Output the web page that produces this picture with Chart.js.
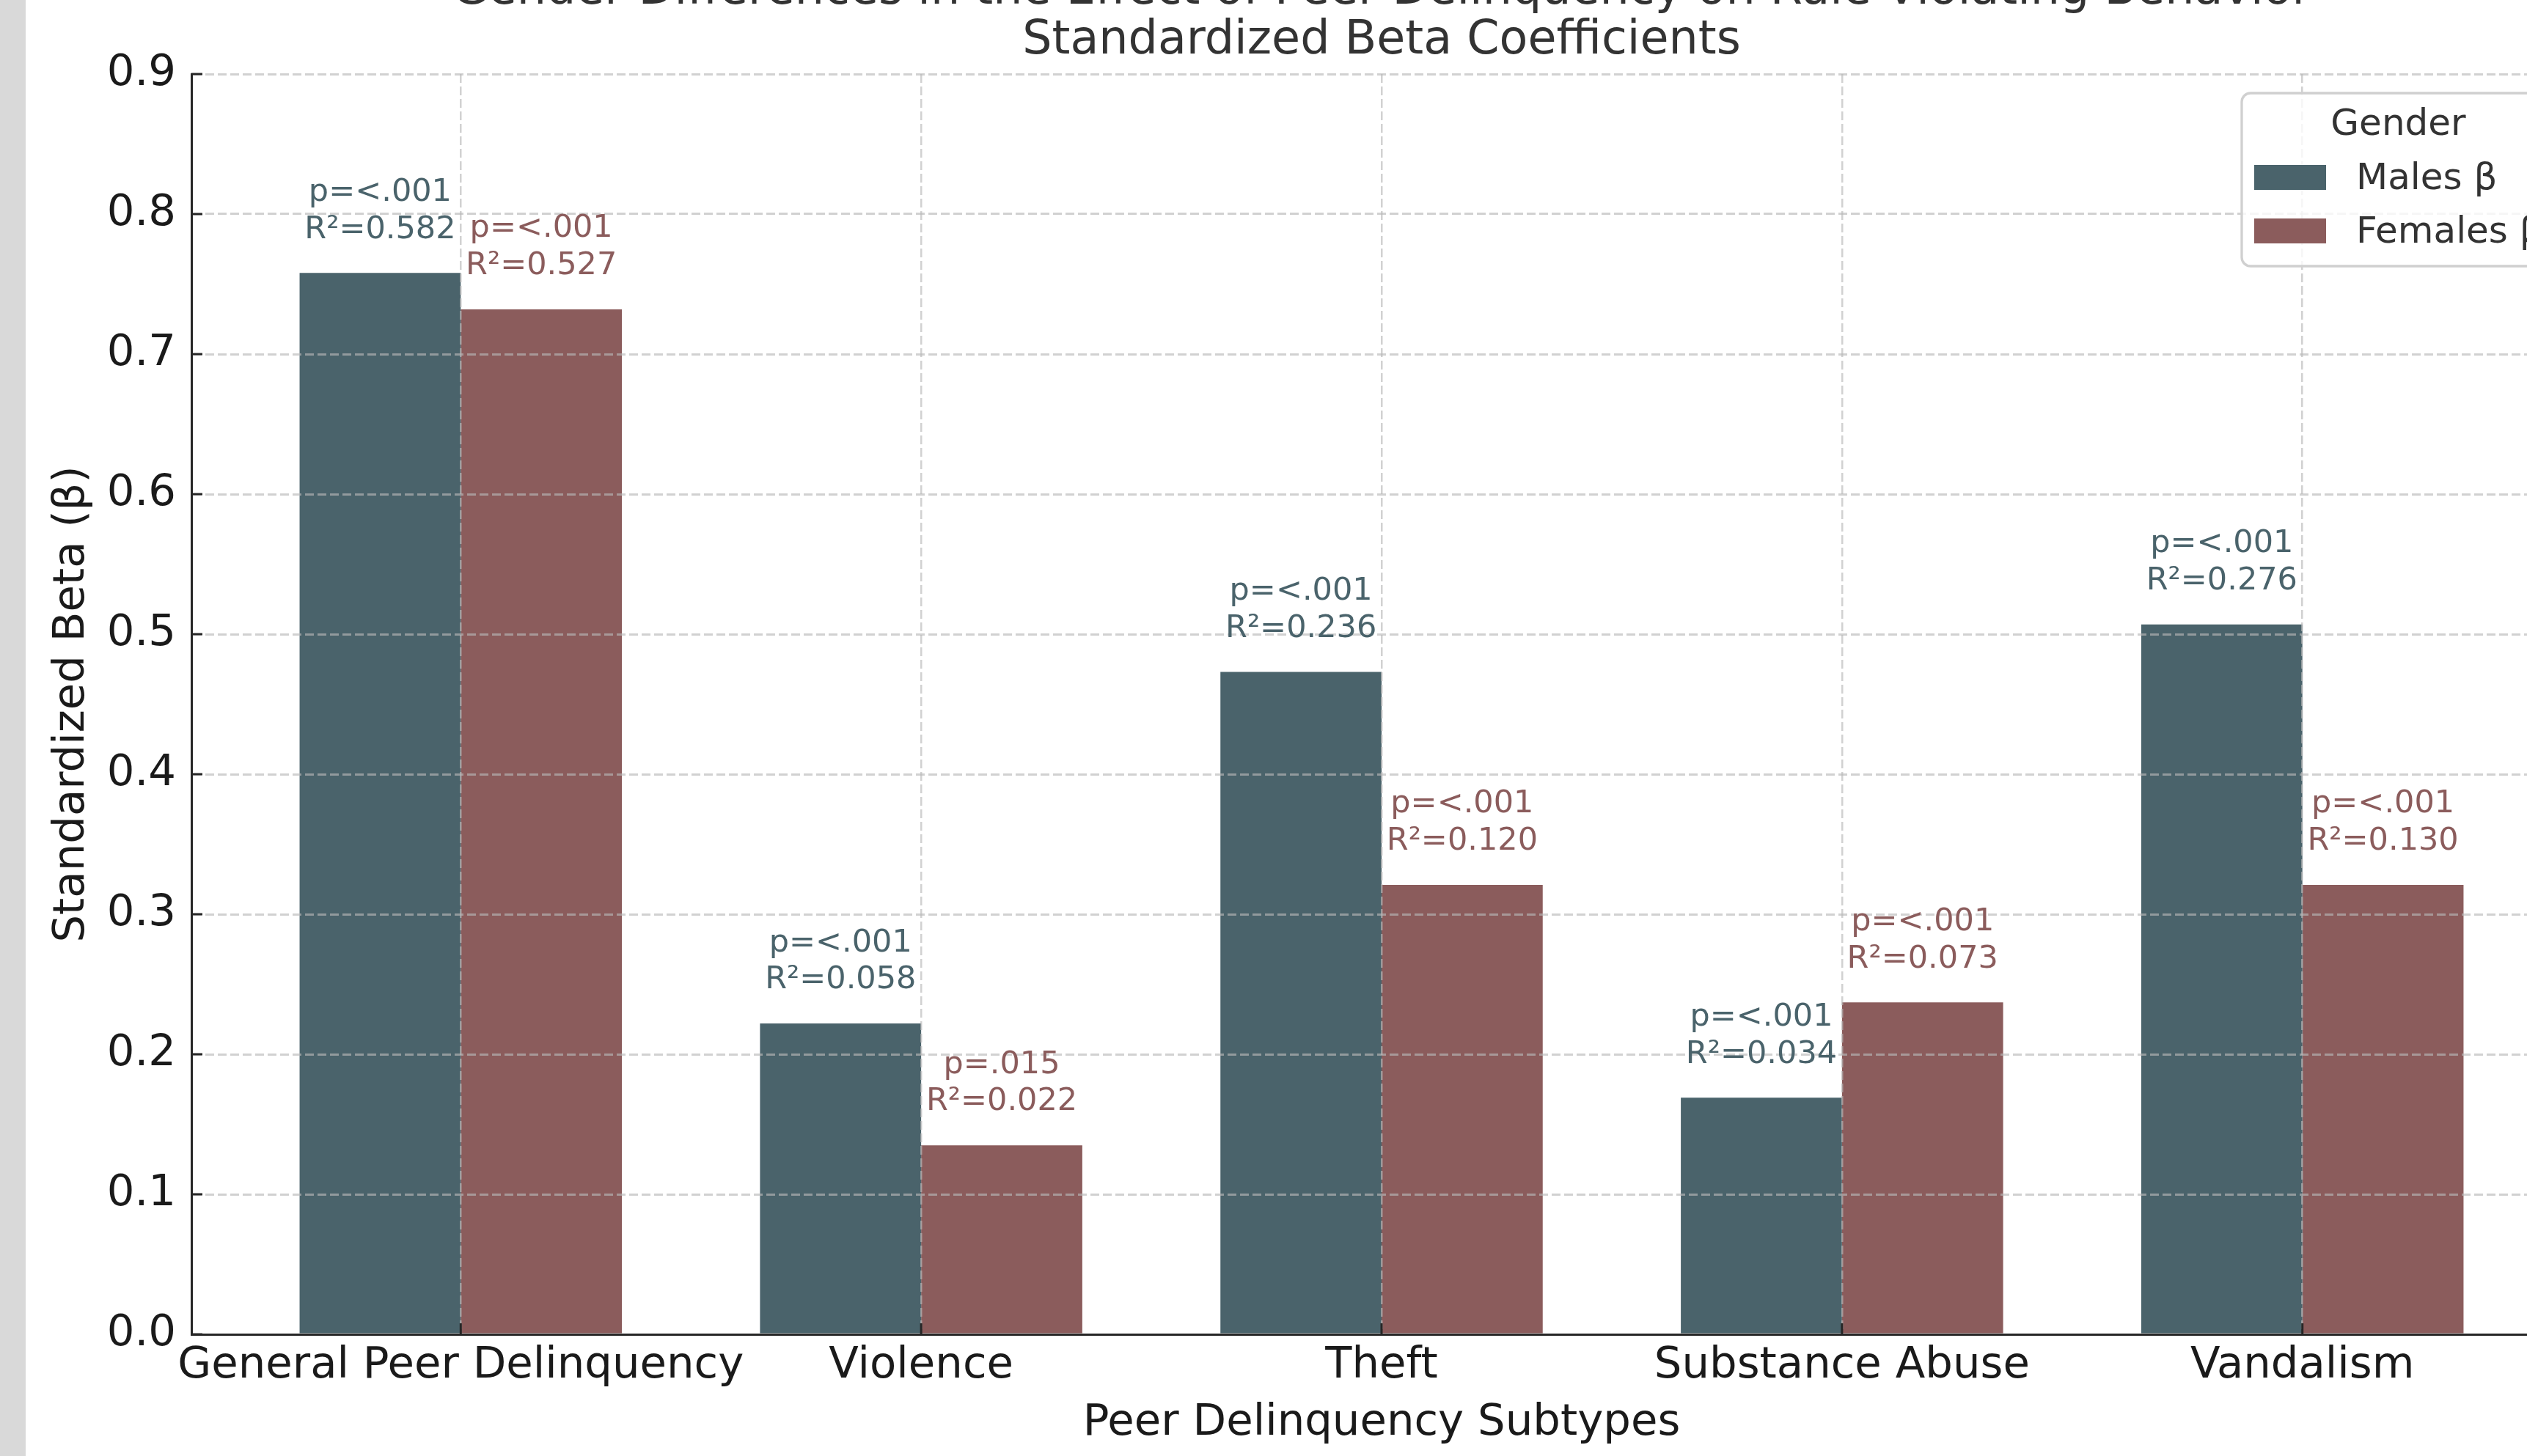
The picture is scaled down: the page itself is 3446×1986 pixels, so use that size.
<!DOCTYPE html>
<html lang="en">
<head>
  <meta charset="UTF-8">
  <title>Peer Delinquency Betas</title>
  <style>
    html, body { margin: 0; padding: 0; width: 3446px; height: 1986px; overflow: hidden; background: #fff; }
    #strip { position: absolute; left: 0; top: 0; width: 35px; height: 1986px; background: #d9d9d9; }
    #wrap { position: absolute; left: 35px; top: -100px; width: 3600px; height: 2086px; }
  </style>
</head>
<body>
<div id="strip"></div>
<div id="wrap"><canvas id="myChart" width="3600" height="2086"></canvas></div>

<script src="https://cdn.jsdelivr.net/npm/chart.js"></script>

<script>
  // values
  const categories = ['General Peer Delinquency', 'Violence', 'Theft', 'Substance Abuse', 'Vandalism'];
  const malesBeta = [0.758, 0.222, 0.473, 0.169, 0.507];
  const femalesBeta = [0.732, 0.135, 0.321, 0.237, 0.321];
  const malesP = ['<.001', '<.001', '<.001', '<.001', '<.001'];
  const femalesP = ['<.001', '.015', '<.001', '<.001', '<.001'];
  const malesR2 = ['0.582', '0.058', '0.236', '0.034', '0.276'];
  const femalesR2 = ['0.527', '0.022', '0.120', '0.073', '0.130'];
  const yTicks = [0, 0.1, 0.2, 0.3, 0.4, 0.5, 0.6, 0.7, 0.8, 0.9];
  const titleLines = ['Gender Differences in the Effect of Peer Delinquency on Rule-Violating Behavior',
                      'Standardized Beta Coefficients'];

  const maleColor = '#4a636b';
  const femaleColor = '#8b5c5c';
  const FONT = '"DejaVu Sans", sans-serif';
  const gridColor = 'rgba(185,185,185,0.65)';

  // title, inward ticks, bar labels and legend
  const extras = {
    id: 'extras',
    afterDraw(chart) {
      const ctx = chart.ctx;
      const a = chart.chartArea;
      const xs = chart.scales.x, ys = chart.scales.y;
      ctx.save();

      // title
      ctx.fillStyle = '#333333';
      ctx.font = '63.5px ' + FONT;
      ctx.textAlign = 'center';
      ctx.textBaseline = 'alphabetic';
      const cx = (a.left + a.right) / 2;
      ctx.fillText(titleLines[0], cx, a.top - 96);
      ctx.fillText(titleLines[1], cx, a.top - 28);

      // inward tick marks
      ctx.strokeStyle = '#262626';
      ctx.lineWidth = 3;
      ctx.beginPath();
      yTicks.forEach(v => {
        const y = ys.getPixelForValue(v);
        ctx.moveTo(a.left, y);
        ctx.lineTo(a.left + 15, y);
      });
      categories.forEach((c, i) => {
        const x = xs.getPixelForValue(i);
        ctx.moveTo(x, a.bottom);
        ctx.lineTo(x, a.bottom - 15);
      });
      ctx.stroke();

      // p / R² labels above bars
      ctx.font = '43px ' + FONT;
      ctx.textAlign = 'center';
      const groups = [[malesBeta, malesP, malesR2, maleColor], [femalesBeta, femalesP, femalesR2, femaleColor]];
      groups.forEach((g, di) => {
        const meta = chart.getDatasetMeta(di);
        ctx.fillStyle = g[3];
        meta.data.forEach((bar, i) => {
          const base = ys.getPixelForValue(g[0][i] + 0.02) - 9.5;
          ctx.fillText('R\u00b2=' + g[2][i], bar.x, base);
          ctx.fillText('p=' + g[1][i], bar.x, base - 50.7);
        });
      });

      // legend
      const lx = a.right - 450, ly = a.top + 26, lw = 427, lh = 236;
      ctx.beginPath();
      ctx.roundRect(lx, ly, lw, lh, 12);
      ctx.fillStyle = 'rgba(255,255,255,0.8)';
      ctx.fill();
      ctx.strokeStyle = '#d0d0d0';
      ctx.lineWidth = 3.3;
      ctx.stroke();
      ctx.font = '50px ' + FONT;
      ctx.fillStyle = '#333333';
      ctx.textAlign = 'center';
      ctx.fillText('Gender', lx + lw / 2, ly + 57);
      ctx.textAlign = 'left';
      const items = [['Males \u03b2', maleColor], ['Females \u03b2', femaleColor]];
      items.forEach((it, k) => {
        const top = ly + 98 + k * 73;
        ctx.fillStyle = it[1];
        ctx.fillRect(lx + 17, top, 98, 34);
        ctx.fillStyle = '#333333';
        ctx.fillText(it[0], lx + 156, top + 33);
      });

      ctx.restore();
    }
  };

  const ctx = document.getElementById('myChart');

  chart = new Chart(ctx, {
    type: 'bar',
    data: {
      datasets: [{
        label: 'Males \u03b2',
        data: malesBeta.map((v, i) => ({ x: i, y: v })),
        backgroundColor: maleColor,
        borderWidth: 0,
        categoryPercentage: 0.7,
        barPercentage: 1.0
      },
      {
        label: 'Females \u03b2',
        data: femalesBeta.map((v, i) => ({ x: i, y: v })),
        backgroundColor: femaleColor,
        borderWidth: 0,
        categoryPercentage: 0.7,
        barPercentage: 1.0
      }]
    },
    options: {
      responsive: false,
      animation: false,
      layout: { padding: { top: 201, right: 128, left: 0, bottom: 0 } },
      plugins: {
        legend: { display: false },
        title: { display: false },
        tooltip: { enabled: false }
      },
      scales: {
        x: {
          type: 'linear',
          min: -0.585,
          max: 4.585,
          offset: false,
          afterBuildTicks: s => { s.ticks = categories.map((c, i) => ({ value: i })); },
          afterFit: s => { s.height = 166; },
          grid: { color: gridColor, lineWidth: 2.5, drawTicks: false, offset: false, z: 1 },
          border: { color: '#262626', width: 3, dash: [12, 5], z: 2 },
          ticks: {
            callback: v => categories[v],
            color: '#1a1a1a',
            font: { family: FONT, size: 59.3 },
            padding: 8,
            maxRotation: 0,
            minRotation: 0,
            autoSkip: false
          },
          title: {
            display: true,
            text: 'Peer Delinquency Subtypes',
            color: '#1a1a1a',
            font: { family: FONT, size: 59.3 },
            padding: { top: 0, bottom: 9 }
          }
        },
        y: {
          min: 0,
          max: 0.9,
          afterBuildTicks: s => { s.ticks = yTicks.map(v => ({ value: v })); },
          afterFit: s => { s.width = 226; },
          grid: { color: gridColor, lineWidth: 3, drawTicks: false, z: 1 },
          border: { color: '#262626', width: 3, dash: [12, 5], z: 2 },
          ticks: {
            callback: v => v.toFixed(1),
            color: '#1a1a1a',
            font: { family: FONT, size: 59.3 },
            padding: 21
          },
          title: {
            display: true,
            text: 'Standardized Beta (\u03b2)',
            color: '#1a1a1a',
            font: { family: FONT, size: 59.3 },
            padding: { top: 28, bottom: 0 }
          }
        }
      }
    },
    plugins: [extras]
  });
</script>
</body>
</html>
